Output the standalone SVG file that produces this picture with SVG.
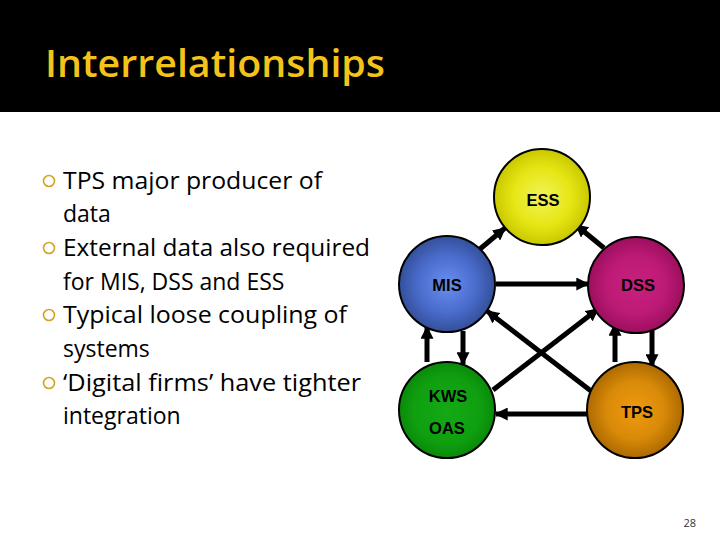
<svg xmlns="http://www.w3.org/2000/svg" width="720" height="540" viewBox="0 0 720 540">
<defs>
<style>
.t{font-family:"Open Sans","Liberation Sans",sans-serif;font-size:23px;fill:#000}
.n{font-family:"Liberation Sans",Arial,sans-serif;font-weight:bold;font-size:16.5px;fill:#000;text-anchor:middle}
.c{stroke:#000;stroke-width:2}
.e{stroke:#000;stroke-width:5;fill:none;marker-end:url(#ah)}
.b{fill:none;stroke:#d4a224;stroke-width:1.6}
</style>
<marker id="ah" viewBox="0 0 10 10" refX="9" refY="5" markerWidth="2.6" markerHeight="2.6" orient="auto" markerUnits="strokeWidth">
<path d="M0,0 L10,5 L0,10 z" fill="#000"/>
</marker>
<radialGradient id="gE" cx="0.5" cy="0.5" r="0.5"><stop offset="0" stop-color="#f2f25a"/><stop offset="0.6" stop-color="#e6e615"/><stop offset="1" stop-color="#c9c800"/></radialGradient>
<radialGradient id="gM" cx="0.5" cy="0.5" r="0.5"><stop offset="0" stop-color="#6a8ff0"/><stop offset="0.6" stop-color="#4a6ccc"/><stop offset="1" stop-color="#34509a"/></radialGradient>
<radialGradient id="gD" cx="0.5" cy="0.5" r="0.5"><stop offset="0" stop-color="#c8207e"/><stop offset="0.6" stop-color="#bd1a76"/><stop offset="1" stop-color="#9c0f5e"/></radialGradient>
<radialGradient id="gK" cx="0.5" cy="0.5" r="0.5"><stop offset="0" stop-color="#14aa14"/><stop offset="0.7" stop-color="#0f9f0f"/><stop offset="1" stop-color="#0a8a0a"/></radialGradient>
<radialGradient id="gT" cx="0.5" cy="0.5" r="0.5"><stop offset="0" stop-color="#f09a10"/><stop offset="0.6" stop-color="#d88a08"/><stop offset="1" stop-color="#ad6a02"/></radialGradient>
</defs>
<rect width="720" height="540" fill="#fff"/>
<g id="title">
<rect width="720" height="112" fill="#000"/>
<text x="45" y="77" font-family="'Open Sans','Liberation Sans',sans-serif" font-size="38" font-weight="600" fill="#f4c31a" textLength="340" lengthAdjust="spacingAndGlyphs">Interrelationships</text>
</g>
<g id="bullets">
<circle class="b" cx="49" cy="181" r="5.5"/>
<circle class="b" cx="49" cy="248" r="5.5"/>
<circle class="b" cx="49" cy="315" r="5.5"/>
<circle class="b" cx="49" cy="383" r="5.5"/>
<text class="t" x="63" y="189" textLength="259" lengthAdjust="spacingAndGlyphs">TPS major producer of</text>
<text class="t" x="63" y="222">data</text>
<text class="t" x="63" y="256" textLength="307" lengthAdjust="spacingAndGlyphs">External data also required</text>
<text class="t" x="63" y="290">for MIS, DSS and ESS</text>
<text class="t" x="63" y="323" textLength="284" lengthAdjust="spacingAndGlyphs">Typical loose coupling of</text>
<text class="t" x="63" y="357">systems</text>
<text class="t" x="63" y="391" textLength="298" lengthAdjust="spacingAndGlyphs">‘Digital firms’ have tighter</text>
<text class="t" x="63" y="424">integration</text>
</g>
<g id="connectors">
<line class="e" x1="480" y1="249" x2="505" y2="228"/>
<line class="e" x1="604" y1="248" x2="576" y2="225"/>
<line class="e" x1="496" y1="284" x2="588" y2="284"/>
<line class="e" x1="427" y1="362" x2="427" y2="327"/>
<line class="e" x1="463" y1="331" x2="463" y2="364"/>
<line class="e" x1="615" y1="362" x2="615" y2="324"/>
<line class="e" x1="652" y1="331" x2="652" y2="366"/>
<line class="e" x1="587" y1="414" x2="496" y2="414"/>
<line class="e" x1="493" y1="390" x2="598" y2="309"/>
<line class="e" x1="591" y1="391" x2="487" y2="311"/>
</g>
<g id="ESS"><circle class="c" cx="542" cy="197" r="48" fill="url(#gE)"/><text class="n" x="543" y="206">ESS</text></g>
<g id="MIS"><circle class="c" cx="447" cy="284" r="48" fill="url(#gM)"/><text class="n" x="447" y="291">MIS</text></g>
<g id="DSS"><circle class="c" cx="636" cy="285" r="48" fill="url(#gD)"/><text class="n" x="638" y="291">DSS</text></g>
<g id="KWS"><circle class="c" cx="447" cy="410" r="48" fill="url(#gK)"/><text class="n" x="448" y="402">KWS</text><text class="n" x="447" y="434">OAS</text></g>
<g id="TPS"><circle class="c" cx="635" cy="410" r="48" fill="url(#gT)"/><text class="n" x="637" y="418">TPS</text></g>
<text x="696" y="527" font-family="'Open Sans','Liberation Sans',sans-serif" font-size="11" fill="#333" text-anchor="end">28</text>
</svg>
